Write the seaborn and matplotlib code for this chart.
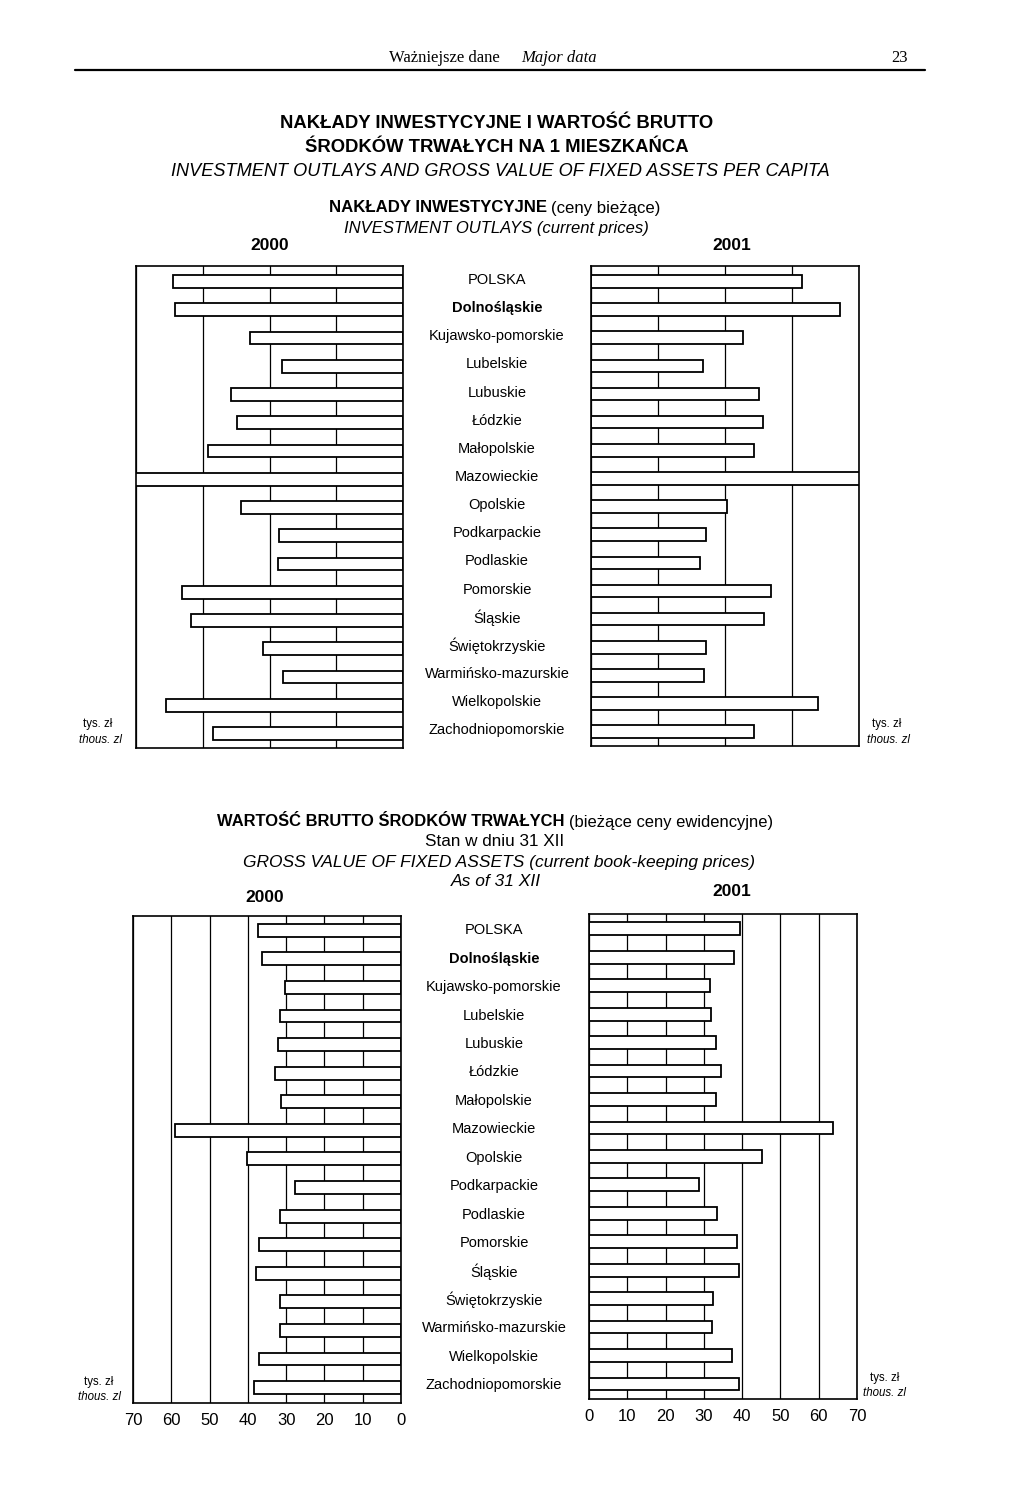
import matplotlib
matplotlib.use("Agg")
import matplotlib.pyplot as plt
import seaborn as sns
import pandas as pd
from matplotlib.transforms import blended_transform_factory
from matplotlib.lines import Line2D

# ---------------- data ----------------
regions = ["POLSKA", "Dolnośląskie", "Kujawsko-pomorskie", "Lubelskie", "Lubuskie",
           "Łódzkie", "Małopolskie", "Mazowieckie", "Opolskie", "Podkarpackie",
           "Podlaskie", "Pomorskie", "Śląskie", "Świętokrzyskie",
           "Warmińsko-mazurskie", "Wielkopolskie", "Zachodniopomorskie"]

# investment outlays per capita, thous. zl (Mazowieckie runs off the scale)
invest_2000 = [3.45, 3.42, 2.29, 1.81, 2.57, 2.49, 2.92, 4.6, 2.43, 1.86,
               1.88, 3.31, 3.17, 2.09, 1.80, 3.55, 2.85]
invest_2001 = [3.15, 3.72, 2.27, 1.67, 2.51, 2.56, 2.44, 4.4, 2.03, 1.72,
               1.63, 2.68, 2.58, 1.72, 1.68, 3.39, 2.43]

# gross value of fixed assets per capita, thous. zl
assets_2000 = [37.3, 36.3, 30.2, 31.6, 32.2, 32.8, 31.4, 59.0, 40.2, 27.7,
               31.5, 37.0, 38.0, 31.6, 31.6, 37.0, 38.4]
assets_2001 = [39.4, 37.9, 31.6, 31.8, 33.3, 34.5, 33.2, 63.7, 45.1, 28.7,
               33.5, 38.7, 39.3, 32.5, 32.1, 37.3, 39.1]

invest_ticks = [0, 1, 2, 3, 4]
assets_ticks = [0, 10, 20, 30, 40, 50, 60, 70]

# ---------------- style ----------------
sns.set_style("white")
plt.rcParams["font.family"] = ["Liberation Sans", "DejaVu Sans"]
plt.rcParams["text.color"] = "black"
plt.rcParams["axes.labelcolor"] = "black"
plt.rcParams["xtick.color"] = "black"
plt.rcParams["ytick.color"] = "black"
NARROW = ["Liberation Sans Narrow", "Liberation Sans", "DejaVu Sans"]
SERIF = ["Liberation Serif", "DejaVu Serif"]
REG = ["Liberation Sans", "DejaVu Sans"]

W, H = 1024, 1505
fig = plt.figure(figsize=(W / 100, H / 100), dpi=100)
fig.patch.set_facecolor("white")


def fx(px):
    return px / W


def fy(py):
    return 1 - py / H


def add_ax(left, top, right, bottom):
    return fig.add_axes([fx(left), fy(bottom), fx(right - left), (bottom - top) / H])


def panel(ax, values, xmax, ticks, show_labels, reverse, ylim):
    df = pd.DataFrame({"region": regions, "value": values})
    sns.barplot(data=df, x="value", y="region", order=regions, orient="h",
                color="white", edgecolor="black", linewidth=1.3, width=0.45,
                saturation=1, ax=ax, zorder=3)
    ax.set_xlim((xmax, 0) if reverse else (0, xmax))
    ax.set_ylim(*ylim)
    ax.set_xticks(ticks)
    ax.set_axisbelow(True)
    ax.grid(axis="x", color="black", linewidth=0.9)
    ax.grid(axis="y", visible=False)
    ax.set_xlabel("")
    ax.set_ylabel("")
    ax.tick_params(axis="both", length=0, labelleft=False,
                   labelbottom=show_labels, labelsize=12, pad=7, colors="black")
    for lab in ax.get_xticklabels():
        lab.set_family(REG)
    for s in ax.spines.values():
        s.set_visible(True)
        s.set_color("black")
        s.set_linewidth(1.2)
        s.set_zorder(5)
    ax.set_facecolor("white")


ax_tl = add_ax(136, 266, 403, 748)
ax_tr = add_ax(591, 266, 859, 746)
ax_bl = add_ax(133, 916, 401, 1403)
ax_br = add_ax(589, 914, 857, 1399)

panel(ax_tl, invest_2000, 4, invest_ticks, False, True, (16.51, -0.55))
panel(ax_tr, invest_2001, 4, invest_ticks, False, False, (16.51, -0.55))
panel(ax_bl, assets_2000, 70, assets_ticks, True, True, (16.54, -0.50))
panel(ax_br, assets_2001, 70, assets_ticks, True, False, (16.53, -0.52))

# category labels in the middle column
tr_top = blended_transform_factory(fig.transFigure, ax_tr.transData)
tr_bot = blended_transform_factory(fig.transFigure, ax_br.transData)
for i, name in enumerate(regions):
    wt = "bold" if name == "Dolnośląskie" else "normal"
    fig.text(fx(497), i - 0.05, name, transform=tr_top, ha="center", va="center",
             fontsize=10.5, family=REG, fontweight=wt)
    fig.text(fx(494), i + 0.05, name, transform=tr_bot, ha="center", va="center",
             fontsize=10.5, family=REG, fontweight=wt)


# unit labels
def unit(x1, y1, x2, y2):
    fig.text(fx(x1), fy(y1), "tys. zł", ha="left", va="center", fontsize=8.3, family=REG)
    fig.text(fx(x2), fy(y2), "thous. zl", ha="left", va="center", fontsize=8.3,
             family=REG, style="italic")


unit(83, 724, 79, 740)
unit(872, 724, 867, 740)
unit(84, 1382, 78, 1397)
unit(870, 1378, 863, 1393)

# ---------------- page header ----------------
fig.text(fx(500), fy(58), "Ważniejsze dane", ha="right", va="center",
         fontsize=12, family=SERIF)
fig.text(fx(521), fy(58), "Major data", ha="left", va="center",
         fontsize=12, family=SERIF, style="italic")
fig.text(fx(900), fy(58), "23", ha="center", va="center", fontsize=12, family=SERIF)
fig.add_artist(Line2D([fx(75), fx(925)], [fy(70), fy(70)], color="black", lw=1.6))

renderer = fig.canvas.get_renderer()


def mixed(parts, xc, y, gap=4):
    texts = []
    for s, kw in parts:
        t = fig.text(0, fy(y), s, ha="left", va="center", **kw)
        texts.append(t)
    widths = [t.get_window_extent(renderer).width for t in texts]
    total = sum(widths) + gap * (len(texts) - 1)
    x = xc - total / 2
    for t, w in zip(texts, widths):
        t.set_x(fx(x))
        x += w + gap


# main title
fig.text(fx(497), fy(124), "NAKŁADY INWESTYCYJNE I WARTOŚĆ BRUTTO", ha="center",
         va="center", fontsize=13.3, family=NARROW, fontweight="bold")
fig.text(fx(497), fy(147), "ŚRODKÓW TRWAŁYCH NA 1 MIESZKAŃCA", ha="center",
         va="center", fontsize=13.3, family=NARROW, fontweight="bold")
fig.text(fx(500), fy(171), "INVESTMENT OUTLAYS AND GROSS VALUE OF FIXED ASSETS PER CAPITA",
         ha="center", va="center", fontsize=13.1, family=NARROW, style="italic")

# upper chart header
mixed([("NAKŁADY INWESTYCYJNE", dict(fontsize=12.1, family=NARROW, fontweight="bold")),
       ("(ceny bieżące)", dict(fontsize=12.1, family=NARROW))], 495, 208)
fig.text(fx(496), fy(229), "INVESTMENT OUTLAYS (current prices)", ha="center",
         va="center", fontsize=12, family=NARROW, style="italic")
fig.text(fx(270), fy(246), "2000", ha="center", va="center", fontsize=12.5,
         family=NARROW, fontweight="bold")
fig.text(fx(732), fy(246), "2001", ha="center", va="center", fontsize=12.5,
         family=NARROW, fontweight="bold")

# lower chart header
mixed([("WARTOŚĆ BRUTTO ŚRODKÓW TRWAŁYCH", dict(fontsize=11.9, family=NARROW, fontweight="bold")),
       ("(bieżące ceny ewidencyjne)", dict(fontsize=11.9, family=NARROW))], 495, 822)
fig.text(fx(495), fy(841), "Stan w dniu 31 XII", ha="center", va="center",
         fontsize=12.3, family=NARROW)
fig.text(fx(499), fy(862), "GROSS VALUE OF FIXED ASSETS (current book-keeping prices)",
         ha="center", va="center", fontsize=12.5, family=NARROW, style="italic")
fig.text(fx(496), fy(881), "As of 31 XII", ha="center", va="center",
         fontsize=12.5, family=NARROW, style="italic")
fig.text(fx(265), fy(897), "2000", ha="center", va="center", fontsize=12.5,
         family=NARROW, fontweight="bold")
fig.text(fx(732), fy(891), "2001", ha="center", va="center", fontsize=12.5,
         family=NARROW, fontweight="bold")

fig.savefig("out.png", dpi=100, facecolor="white")
